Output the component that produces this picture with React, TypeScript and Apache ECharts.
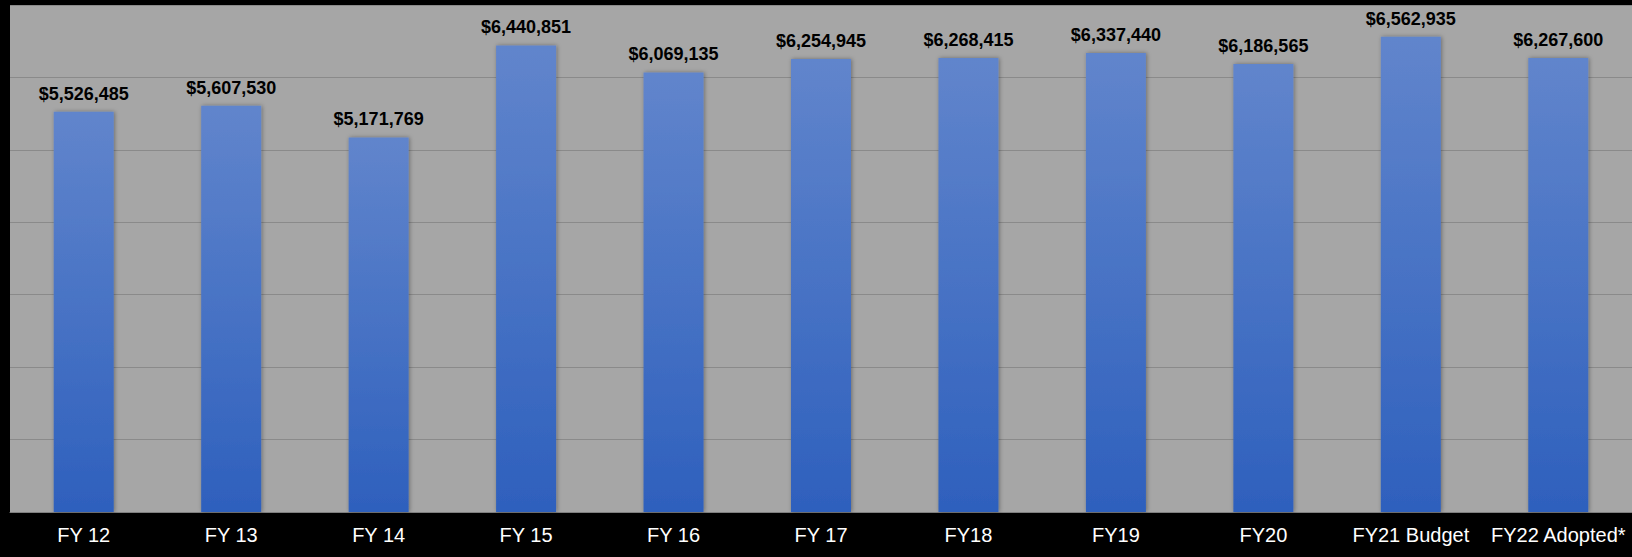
import React, { useEffect, useRef } from "react";
import * as echarts from "echarts";

const categories = ["FY 12", "FY 13", "FY 14", "FY 15", "FY 16", "FY 17", "FY18", "FY19", "FY20", "FY21 Budget", "FY22 Adopted*"];
const values = [5526485, 5607530, 5171769, 6440851, 6069135, 6254945, 6268415, 6337440, 6186565, 6562935, 6267600];
const yMin = 0;
const yMax = 7000000;
const yInterval = 1000000;

export default function App() {
  const ref = useRef<HTMLDivElement>(null);
  useEffect(() => {
    if (!ref.current) return;
    const chart = echarts.init(ref.current, null, { renderer: "svg" });
    chart.setOption({
      animation: false,
      backgroundColor: "#000000",
      grid: {
        left: 10,
        right: -2,
        top: 5,
        bottom: 45,
        show: true,
        backgroundColor: "#a6a6a6",
        borderWidth: 0,
      },
      xAxis: {
        type: "category",
        data: categories,
        axisLine: { show: true, lineStyle: { color: "#7f7f7f", width: 1 } },
        axisTick: { show: false },
        axisLabel: {
          color: "#ffffff",
          fontFamily: "Liberation Sans, Arial, sans-serif",
          fontSize: 20,
          fontWeight: "normal",
          margin: 13,
          interval: 0,
        },
      },
      yAxis: {
        type: "value",
        min: yMin,
        max: yMax,
        interval: yInterval,
        axisLabel: { show: false },
        axisLine: { show: false },
        axisTick: { show: false },
        splitLine: { show: true, lineStyle: { color: "#8a8a8a", width: 1 } },
      },
      series: [
        {
          type: "bar",
          data: values,
          barWidth: 60,
          itemStyle: {
            color: new echarts.graphic.LinearGradient(0, 0, 0, 1, [
              { offset: 0, color: "#6185cc" },
              { offset: 1, color: "#2e60bd" },
            ]),
            shadowBlur: 4,
            shadowColor: "rgba(0,0,0,0.35)",
            shadowOffsetX: 1,
            shadowOffsetY: 0,
          },
          label: {
            show: true,
            position: "top",
            distance: 9,
            color: "#000000",
            fontWeight: "bold",
            fontFamily: "Liberation Sans, Arial, sans-serif",
            fontSize: 18,
            formatter: (p: any) => "$" + Number(p.value).toLocaleString("en-US"),
          },
        },
      ],
    });
    return () => chart.dispose();
  }, []);
  return (
    <div
      ref={ref}
      style={{ position: "fixed", left: 0, top: 0, width: 1632, height: 557, background: "#000" }}
    />
  );
}
